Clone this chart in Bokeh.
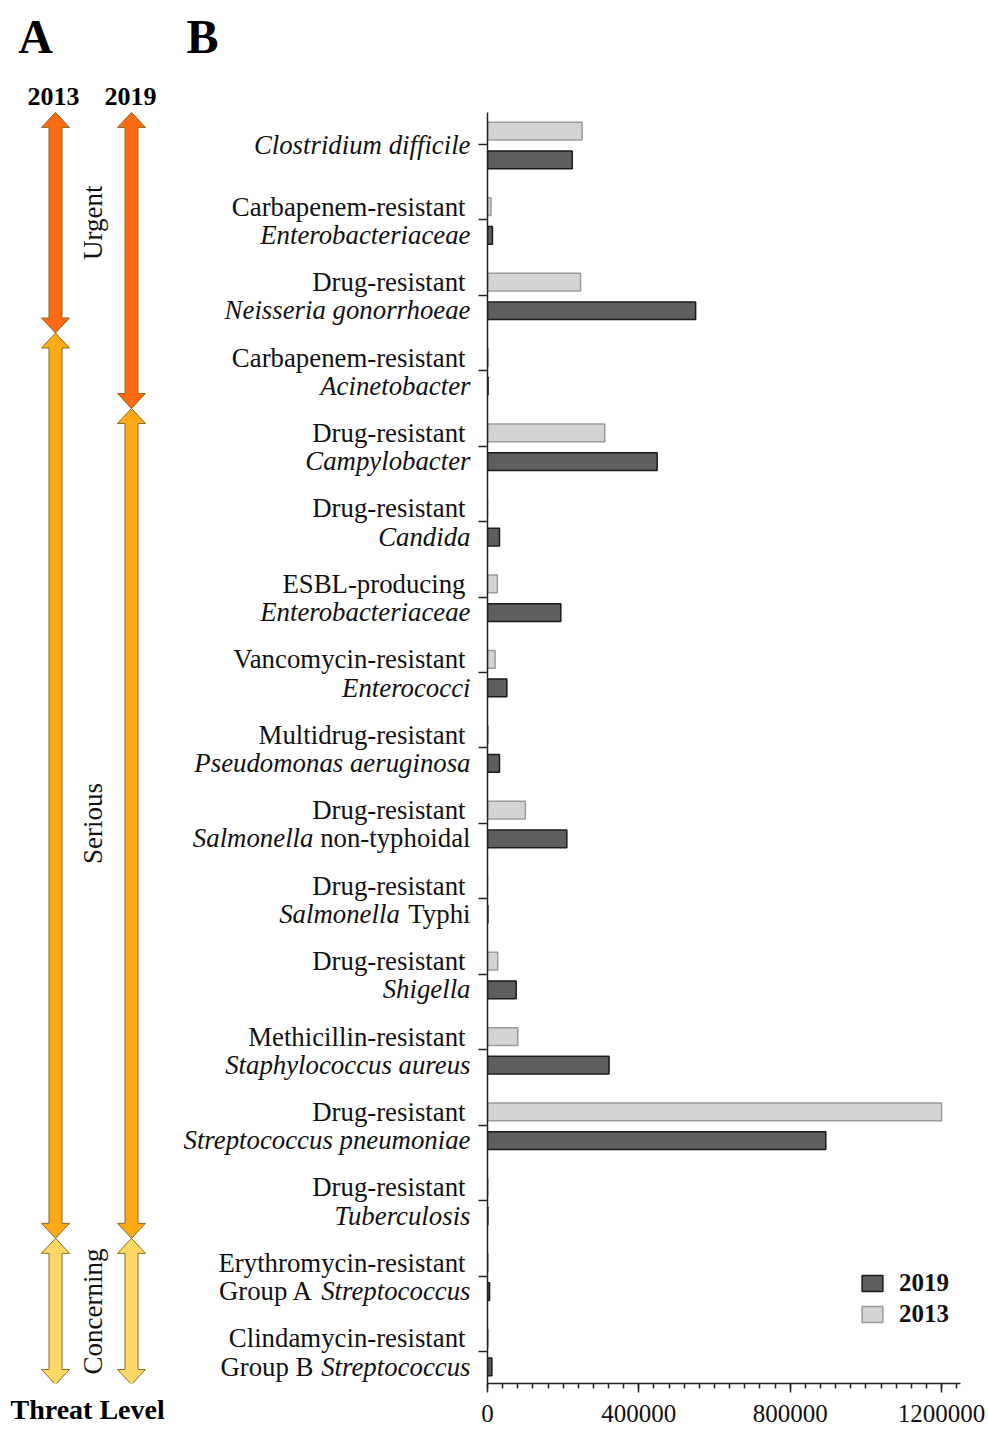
import numpy as np
from bokeh.plotting import figure
from bokeh.models import (ColumnDataSource, Range1d, FixedTicker, SingleIntervalTicker,
                          Legend, LegendItem, BasicTickFormatter, Title)
from bokeh.layouts import row
from bokeh.transform import dodge
from bokeh.core.properties import value
from bokeh.embed import file_html
from bokeh.resources import INLINE

# ---------------- data ----------------
label_top = ["", "Carbapenem-resistant", "Drug-resistant", "Carbapenem-resistant",
             "Drug-resistant", "Drug-resistant", "ESBL-producing", "Vancomycin-resistant",
             "Multidrug-resistant", "Drug-resistant", "Drug-resistant", "Drug-resistant",
             "Methicillin-resistant", "Drug-resistant", "Drug-resistant",
             "Erythromycin-resistant", "Clindamycin-resistant"]
# bottom line as (text, italic) segments
label_bottom = [
    [("Clostridium difficile", True)],
    [("Enterobacteriaceae", True)],
    [("Neisseria gonorrhoeae", True)],
    [("Acinetobacter", True)],
    [("Campylobacter", True)],
    [("Candida", True)],
    [("Enterobacteriaceae", True)],
    [("Enterococci", True)],
    [("Pseudomonas aeruginosa", True)],
    [("Salmonella", True), (" non-typhoidal", False)],
    [("Salmonella", True), (" Typhi", False)],
    [("Shigella", True)],
    [("Staphylococcus aureus", True)],
    [("Streptococcus pneumoniae", True)],
    [("Tuberculosis", True)],
    [("Group A", False), (" Streptococcus", True)],
    [("Group B", False), (" Streptococcus", True)],
]
v2013 = [250000, 9300, 246000, 1500, 310000, 0, 26000, 20000, 1500, 100000,
         0, 27000, 80000, 1200000, 1000, 1300, 1500]
v2019 = [223900, 13100, 550000, 1500, 448400, 31700, 193700, 51200, 31700, 209600,
         1000, 75800, 321300, 894000, 900, 5400, 11600]
threat_2013 = ["Urgent"] * 3 + ["Serious"] * 12 + ["Concerning"] * 2
threat_2019 = ["Urgent"] * 4 + ["Serious"] * 11 + ["Concerning"] * 2
threat_levels = ["Urgent", "Serious", "Concerning"]
threat_colors = {"Urgent": "#fc6a12", "Serious": "#fdaa16", "Concerning": "#fed865"}
years = ["2013", "2019"]

# ---------------- layout constants (page px) ----------------
PPC = 75.5           # px per category
CAT0_Y = 144         # page y of first category
AXIS_TOP, FRAME_BOTTOM = 112, 1384
FIG_H = 1436
LEFT_W = 478
AXIS_X = 487
FRAME_RIGHT = 960
FIG_RIGHT = 986
SERIF = "Liberation Serif"


def u(py):
    return (py - CAT0_Y) / PPC


# ---------------- bar chart (B) ----------------
n = len(v2013)
src = ColumnDataSource(dict(y=list(range(n)), v2013=v2013, v2019=v2019))

mbl = AXIS_X - LEFT_W
shared_y = Range1d(start=u(FRAME_BOTTOM), end=u(0))
pr = figure(width=FIG_RIGHT - LEFT_W, height=FIG_H,
            x_range=Range1d(0, 1250000), y_range=shared_y,
            toolbar_location=None, output_backend="svg",
            min_border_left=mbl, min_border_right=FIG_RIGHT - FRAME_RIGHT,
            min_border_top=0, min_border_bottom=FIG_H - FRAME_BOTTOM)
pr.outline_line_color = None
pr.grid.visible = False

r13 = pr.hbar(y=dodge("y", -0.175, range=pr.y_range), right="v2013", left=0, height=0.235,
              source=src, fill_color="#d4d4d4", line_color="#9a9a9a", line_width=1.5)
r19 = pr.hbar(y=dodge("y", 0.205, range=pr.y_range), right="v2019", left=0, height=0.235,
              source=src, fill_color="#5f5f5f", line_color="#1a1a1a", line_width=1.5)

xa = pr.xaxis[0]
xa.ticker = SingleIntervalTicker(interval=400000, num_minor_ticks=10)
xa.formatter = BasicTickFormatter(use_scientific=False)
xa.major_tick_out = 9
xa.major_tick_in = 0
xa.minor_tick_out = 5
xa.minor_tick_in = 0
xa.axis_line_width = 1.5
xa.major_tick_line_width = 1.5
xa.minor_tick_line_width = 1.5
xa.axis_line_color = "#222222"
xa.major_tick_line_color = "#222222"
xa.minor_tick_line_color = "#222222"
xa.major_label_text_font = SERIF
xa.major_label_text_font_size = "25px"
xa.major_label_text_color = "#111111"
xa.major_label_standoff = 12

ya = pr.yaxis[0]
ya.ticker = FixedTicker(ticks=list(range(n)), minor_ticks=[])
ya.bounds = (u(AXIS_TOP), u(FRAME_BOTTOM))
ya.major_tick_out = 9
ya.major_tick_in = 0
ya.axis_line_width = 1.5
ya.major_tick_line_width = 1.5
ya.axis_line_color = "#222222"
ya.major_tick_line_color = "#222222"
ya.major_label_overrides = {i: "" for i in range(n)}
ya.major_label_standoff = 0

legend = Legend(items=[LegendItem(label="2019", renderers=[r19]),
                       LegendItem(label="2013", renderers=[r13])],
                location=(372, 55), orientation="vertical",
                border_line_color=None, background_fill_alpha=0,
                padding=0, margin=0, spacing=3,
                glyph_width=26, glyph_height=20, label_height=20,
                label_standoff=14, label_text_font=SERIF,
                label_text_font_size="25px", label_text_font_style="bold",
                label_text_color="#111111")
pr.add_layout(legend, "center")

# ---------------- left panel (A + labels) ----------------
pl = figure(width=LEFT_W, height=FIG_H,
            x_range=Range1d(0, LEFT_W), y_range=shared_y,
            x_axis_location=None, y_axis_location=None,
            toolbar_location=None, output_backend="svg",
            min_border_left=0, min_border_right=0,
            min_border_top=0, min_border_bottom=FIG_H - FRAME_BOTTOM)
pl.outline_line_color = None
pl.grid.visible = False

# Times-like metrics (per 1000 em) for segment widths
REG = dict(zip("abcdefghijklmnopqrstuvwxyz",
               [444, 500, 444, 500, 444, 333, 500, 500, 278, 278, 500, 278, 778, 500, 500,
                500, 500, 333, 389, 278, 500, 500, 722, 500, 500, 444]))
REG.update({" ": 250, "-": 333, "S": 556, "T": 611, "G": 722, "A": 722, "B": 667})
ITA = dict(zip("abcdefghijklmnopqrstuvwxyz",
               [500, 500, 444, 500, 444, 278, 500, 500, 278, 278, 444, 278, 722, 500, 500,
                500, 500, 389, 389, 278, 500, 444, 667, 444, 444, 389]))
ITA.update({" ": 250, "-": 333, "S": 500, "T": 556, "G": 722, "A": 611, "B": 611})
FS = 26.8


def width(text, italic):
    m = ITA if italic else REG
    return sum(m.get(c, 500) for c in text) / 1000 * FS


tx, ty, tt, ts = [], [], [], []
X_TOP, X_BOT = 465, 470
for i in range(n):
    segs = label_bottom[i]
    if label_top[i]:
        tx.append(X_TOP); ty.append(i - 0.175); tt.append(label_top[i]); ts.append("normal")
        yb = i + 0.2
    else:
        yb = i + 0.01
    xr = X_BOT
    for text, ital in reversed(segs):
        tx.append(xr); ty.append(yb); tt.append(text.strip())
        ts.append("italic" if ital else "normal")
        xr -= width(text, ital)

lab_src = ColumnDataSource(dict(x=tx, y=ty, text=tt, style=ts))
pl.text(x="x", y="y", text="text", source=lab_src, text_align="right",
        text_baseline="middle", text_font=value(SERIF), text_font_size=f"{FS}px",
        text_font_style="style", text_color="#111111")

# arrows
HL = 15 / PPC   # head length in category units
SW, HW = 6.5, 14
axs, ays, acol = [], [], []
top_limit, bottom_limit = u(AXIS_TOP), u(FRAME_BOTTOM + 1)
for xc, levels in [(55, threat_2013), (131, threat_2019)]:
    for lv in threat_levels:
        idx = [i for i, l in enumerate(levels) if l == lv]
        yt = max(min(idx) - 0.5, top_limit)
        yb = min(max(idx) + 0.5, bottom_limit)
        axs.append([xc, xc + HW, xc + SW, xc + SW, xc + HW, xc, xc - HW, xc - SW, xc - SW, xc - HW])
        ays.append([yt, yt + HL, yt + HL, yb - HL, yb - HL, yb, yb - HL, yb - HL, yt + HL, yt + HL])
        acol.append(threat_colors[lv])
pl.patches(xs=axs, ys=ays, fill_color=acol, line_color="#8a6a20", line_width=1)

# threat level names (centred on overlap of both columns)
lx, ly, lt = [], [], []
for lv in threat_levels:
    a = [i for i, l in enumerate(threat_2013) if l == lv]
    b = [i for i, l in enumerate(threat_2019) if l == lv]
    lo = max(max(min(a), min(b)) - 0.5, top_limit)
    hi = min(min(max(a), max(b)) + 0.5, bottom_limit)
    lx.append(92); ly.append((lo + hi) / 2); lt.append(lv)
pl.text(x=lx, y=ly, text=lt, angle=np.pi / 2, text_align="center", text_baseline="middle",
        text_font=value(SERIF), text_font_size="27px", text_color="#111111")

# headings
pl.text(x=[35, 202], y=[u(36), u(36)], text=["A", "B"], text_align="center",
        text_baseline="middle", text_font=value(SERIF), text_font_size="48px",
        text_font_style="bold", text_color="#000000")
pl.text(x=[53, 130], y=[u(96), u(96)], text=years, text_align="center",
        text_baseline="middle", text_font=value(SERIF), text_font_size="26px",
        text_font_style="bold", text_color="#000000")
pl.add_layout(Title(text="Threat Level", align="left", offset=10, standoff=20,
                    vertical_align="top",
                    text_font=SERIF, text_font_size="28px", text_font_style="bold",
                    text_color="#000000"), "below")

layout = row(pl, pr, spacing=0)
open("out.html", "w").write(file_html(layout, INLINE))
